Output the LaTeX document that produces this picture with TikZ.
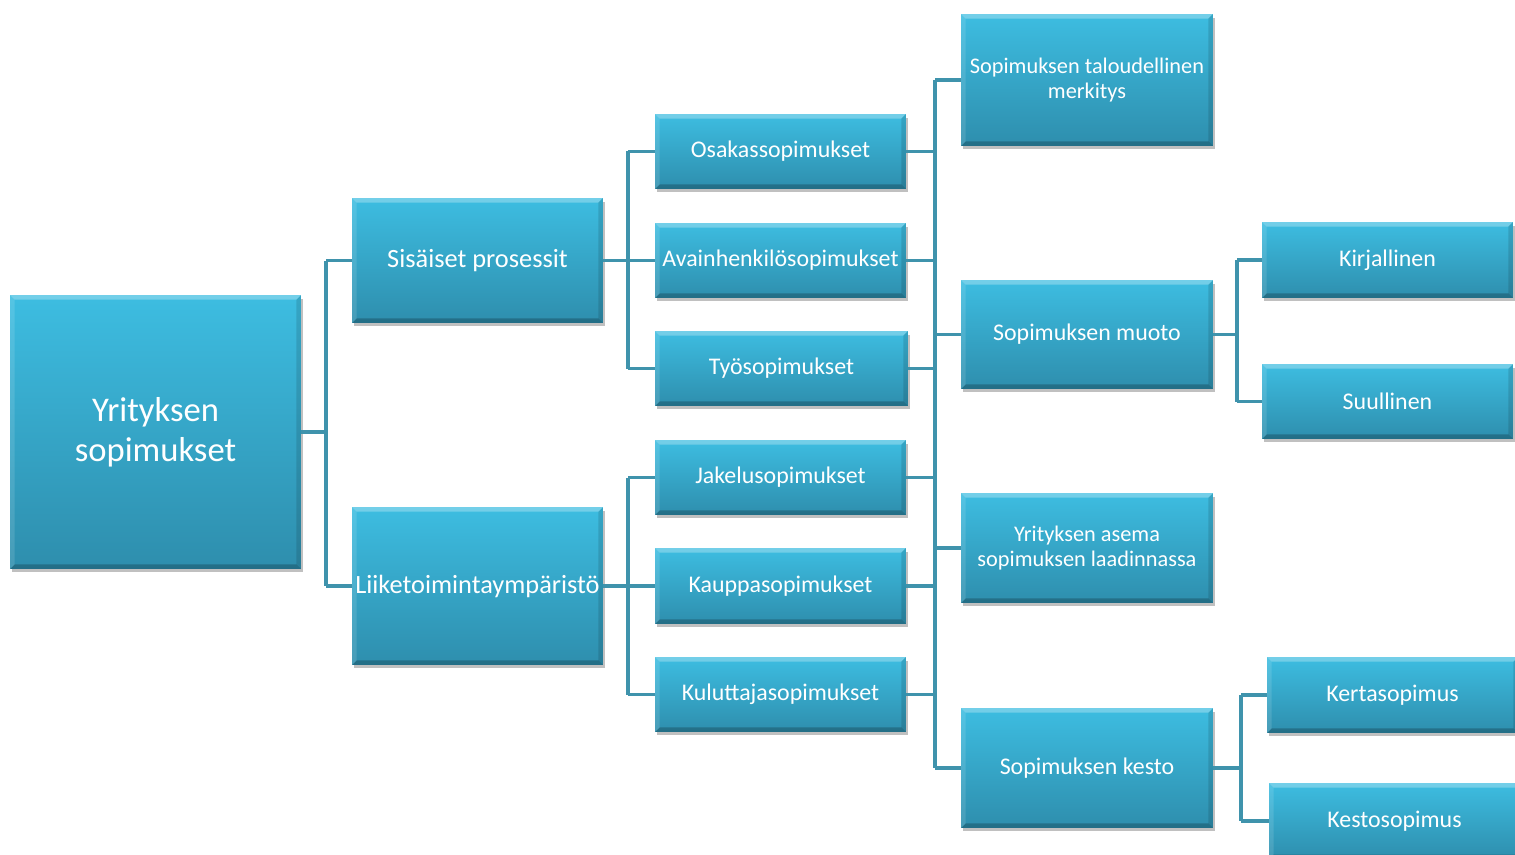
\documentclass[tikz,border=0pt]{standalone}
\usepackage{fontspec}
\setmainfont{Carlito}
\usetikzlibrary{shadows,calc}
\definecolor{boxtop}{HTML}{3DBDE1}
\definecolor{boxbot}{HTML}{2E8EAD}
\definecolor{conncol}{HTML}{3F93AC}
\tikzset{
  box/.style={rectangle, inner sep=2pt, text=white, align=center,
    top color=boxtop, bottom color=boxbot,
    drop shadow={shadow xshift=0.04cm, shadow yshift=-0.07cm, opacity=0.35, fill=black!70},
    path picture={
      \fill[white,opacity=0.28] (path picture bounding box.north west) -- (path picture bounding box.north east)
        -- ([shift={(-0.09cm,-0.09cm)}]path picture bounding box.north east) -- ([shift={(0.09cm,-0.09cm)}]path picture bounding box.north west) -- cycle;
      \fill[black,opacity=0.22] (path picture bounding box.south west) -- (path picture bounding box.south east)
        -- ([shift={(-0.09cm,0.09cm)}]path picture bounding box.south east) -- ([shift={(0.09cm,0.09cm)}]path picture bounding box.south west) -- cycle;
      \fill[white,opacity=0.12] (path picture bounding box.north west) -- (path picture bounding box.south west)
        -- ([shift={(0.09cm,0.09cm)}]path picture bounding box.south west) -- ([shift={(0.09cm,-0.09cm)}]path picture bounding box.north west) -- cycle;
      \fill[black,opacity=0.12] (path picture bounding box.north east) -- (path picture bounding box.south east)
        -- ([shift={(-0.09cm,0.09cm)}]path picture bounding box.south east) -- ([shift={(-0.09cm,-0.09cm)}]path picture bounding box.north east) -- cycle;
    }},
  rootfont/.style={font=\fontsize{19.7}{23}\selectfont},
  lvtwo/.style={font=\fontsize{15}{18}\selectfont},
  lvthree/.style={font=\fontsize{13.6}{16}\selectfont},
  lvsmall/.style={font=\fontsize{12.7}{14.5}\selectfont},
  conn/.style={draw=conncol, line width=2pt},
}
\begin{document}
\begin{tikzpicture}[x=0.02cm,y=-0.02cm]
\clip (0,0) rectangle (1515,855);
\fill[white] (0,0) rectangle (1515,855);
% level 1
\node[box,rootfont,minimum width=5.82cm,minimum height=5.48cm] (root) at (155.5,432) {Yrityksen\\sopimukset};
% level 2
\node[box,lvtwo,minimum width=5.02cm,minimum height=2.5cm] (sis) at (477.5,260.5) {Sisäiset prosessit};
\node[box,lvtwo,minimum width=5.02cm,minimum height=3.16cm,inner sep=0pt] (liike) at (477.5,586) {Liiketoimintaympäristö};
% level 3
\node[box,lvthree,minimum width=5.02cm,minimum height=1.5cm] (osa) at (780.5,151.5) {Osakassopimukset};
\node[box,lvthree,minimum width=5.02cm,minimum height=1.5cm,inner sep=0pt] (avain) at (780.5,260.5) {Avainhenkilösopimukset};
\node[box,lvthree,minimum width=5.06cm,minimum height=1.5cm] (tyo) at (781.5,368.5) {Työsopimukset};
\node[box,lvthree,minimum width=5.02cm,minimum height=1.5cm] (jak) at (780.5,477.5) {Jakelusopimukset};
\node[box,lvthree,minimum width=5.02cm,minimum height=1.52cm] (kaup) at (780.5,586) {Kauppasopimukset};
\node[box,lvthree,minimum width=5.02cm,minimum height=1.5cm] (kulu) at (780.5,694.5) {Kuluttajasopimukset};
% level 4
\node[box,lvsmall,minimum width=5.04cm,minimum height=2.64cm] (talo) at (1087,80) {Sopimuksen taloudellinen\\merkitys};
\node[box,lvthree,minimum width=5.04cm,minimum height=2.18cm] (muoto) at (1087,334.5) {Sopimuksen muoto};
\node[box,lvsmall,minimum width=5.04cm,minimum height=2.2cm] (asema) at (1087,548) {Yrityksen asema\\sopimuksen laadinnassa};
\node[box,lvthree,minimum width=5.04cm,minimum height=2.4cm] (kesto) at (1087,768) {Sopimuksen kesto};
% level 5
\node[box,lvthree,minimum width=5.02cm,minimum height=1.52cm] (kirj) at (1387.5,260) {Kirjallinen};
\node[box,lvthree,minimum width=5.02cm,minimum height=1.5cm] (suul) at (1387.5,401.5) {Suullinen};
\node[box,lvthree,minimum width=5.02cm,minimum height=1.52cm] (kerta) at (1392.5,695) {Kertasopimus};
\node[box,lvthree,minimum width=5.02cm,minimum height=1.52cm] (kestos) at (1394.5,821) {Kestosopimus};
% connectors
\coordinate (b1) at (326,0);
\coordinate (b2) at (628,0);
\coordinate (b3) at (935,0);
\coordinate (b4) at (1237,0);
\coordinate (b5) at (1241,0);
\draw[conn] (root.east) -- (root.east -| b1);
\draw[conn] (b1 |- sis.west) -- (b1 |- liike.west);
\draw[conn] (b1 |- sis.west) -- (sis.west);
\draw[conn] (b1 |- liike.west) -- (liike.west);
\draw[conn] (sis.east) -- (sis.east -| b2);
\draw[conn] (b2 |- osa.west) -- (b2 |- tyo.west);
\foreach \n in {osa,avain,tyo} \draw[conn] (b2 |- \n.west) -- (\n.west);
\draw[conn] (liike.east) -- (liike.east -| b2);
\draw[conn] (b2 |- jak.west) -- (b2 |- kulu.west);
\foreach \n in {jak,kaup,kulu} \draw[conn] (b2 |- \n.west) -- (\n.west);
\draw[conn] (b3 |- talo.west) -- (b3 |- kesto.west);
\foreach \n in {osa,avain,tyo,jak,kaup,kulu} \draw[conn] (\n.east) -- (\n.east -| b3);
\foreach \n in {talo,muoto,asema,kesto} \draw[conn] (b3 |- \n.west) -- (\n.west);
\draw[conn] (muoto.east) -- (muoto.east -| b4);
\draw[conn] (b4 |- kirj.west) -- (b4 |- suul.west);
\foreach \n in {kirj,suul} \draw[conn] (b4 |- \n.west) -- (\n.west);
\draw[conn] (kesto.east) -- (kesto.east -| b5);
\draw[conn] (b5 |- kerta.west) -- (b5 |- kestos.west);
\foreach \n in {kerta,kestos} \draw[conn] (b5 |- \n.west) -- (\n.west);
\end{tikzpicture}
\end{document}
